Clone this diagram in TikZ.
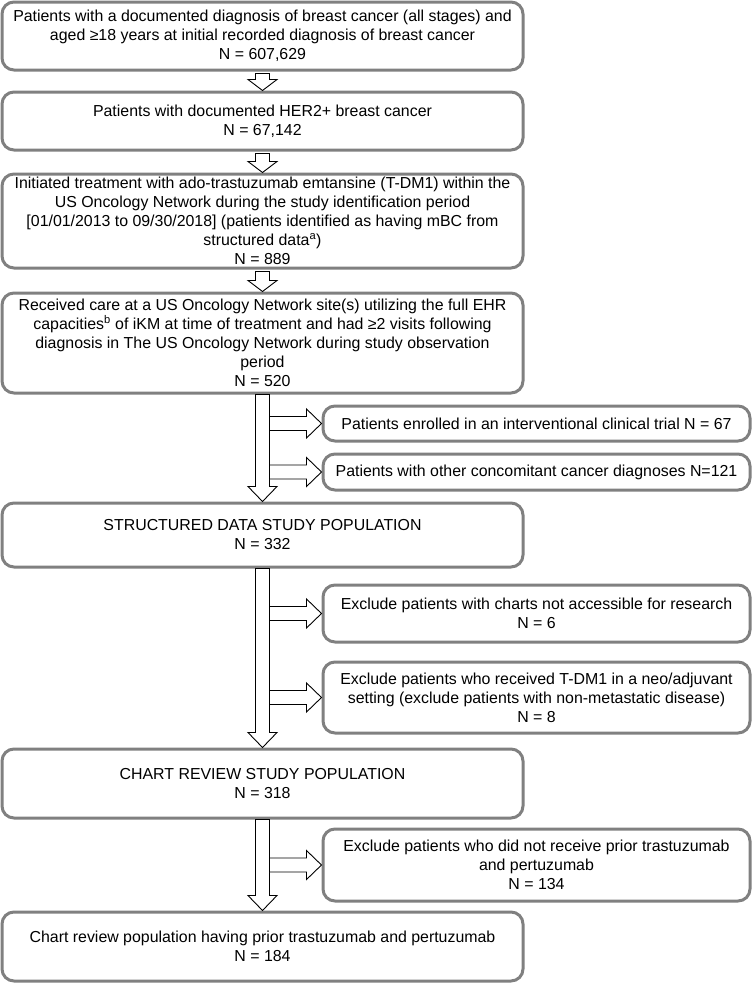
\documentclass[tikz,border=0pt]{standalone}
\usepackage{fontspec}
\setmainfont{Liberation Sans}
\usetikzlibrary{calc}
\definecolor{boxgray}{RGB}{128,128,128}
\tikzset{
	box/.style={draw=boxgray, line width=3pt, rounded corners=12pt, align=center, inner sep=0pt, font=\fontsize{15.9}{19}\selectfont},
	blockarrow/.style={draw=black, fill=white, line width=0.9pt, line join=miter}
}
% block arrow down: from node, to node, gap, head length
\newcommand{\flowdown}[4]{\draw[blockarrow] let \p1=(#1.south), \p2=(#2.north) in (\x1-7pt,\y1-#3) -- (\x1-7pt,\y2+#4) -- (\x1-14.5pt,\y2+#4) -- (\x1,\y2) -- (\x1+14.5pt,\y2+#4) -- (\x1+7pt,\y2+#4) -- (\x1+7pt,\y1-#3) -- cycle;}
% block arrow right: trunk node, side node
\newcommand{\flowright}[2]{\draw[blockarrow] let \p1=(#1.south), \p2=(#2.west) in (\x1+7pt,\y2-7pt) -- (\x2-15pt,\y2-7pt) -- (\x2-15pt,\y2-14.5pt) -- (\p2) -- (\x2-15pt,\y2+14.5pt) -- (\x2-15pt,\y2+7pt) -- (\x1+7pt,\y2+7pt) -- cycle;}

\begin{document}
\begin{tikzpicture}[x=1pt, y=-1pt]
			%%%%% START %%%%%
			\useasboundingbox (0, 0) rectangle (753, 983);
			
			\node[box, minimum width=521, minimum height=68] (all) at (262.5, 36) {Patients with a documented diagnosis of breast cancer (all stages) and\\aged ≥18 years at initial recorded diagnosis of breast cancer\\N = 607,629};
			\node[box, minimum width=521, minimum height=58] (her2) at (262.5, 121) {Patients with documented HER2+ breast cancer\\N = 67,142};
			\node[box, minimum width=521, minimum height=94] (tdm1) at (262.5, 221) {Initiated treatment with ado-trastuzumab emtansine (T-DM1) within the\\US Oncology Network during the study identification period\\{}[01/01/2013 to 09/30/2018] (patients identified as having mBC from\\structured data\textsuperscript{a})\\N = 889};
			\node[box, minimum width=521, minimum height=100] (care) at (262.5, 343) {Received care at a US Oncology Network site(s) utilizing the full EHR\\capacities\textsuperscript{b} of iKM at time of treatment and had ≥2 visits following\\diagnosis in The US Oncology Network during study observation\\period\\N = 520};
			
			\node[box, minimum width=427, minimum height=35] (trial) at (536.5, 423.5) {Patients enrolled in an interventional clinical trial N = 67};
			\node[box, minimum width=427, minimum height=36] (other) at (536.5, 472) {Patients with other concomitant cancer diagnoses N=121};
			
			\node[box, minimum width=521, minimum height=64] (struct) at (262.5, 535) {STRUCTURED DATA STUDY POPULATION\\N = 332};
			
			\node[box, minimum width=427, minimum height=57] (access) at (536.5, 613.5) {Exclude patients with charts not accessible for research\\N = 6};
			\node[box, minimum width=427, minimum height=71] (neoadj) at (536.5, 697.5) {Exclude patients who received T-DM1 in a neo/adjuvant\\setting (exclude patients with non-metastatic disease)\\N = 8};
			
			\node[box, minimum width=521, minimum height=69] (chart) at (262.5, 783.5) {CHART REVIEW STUDY POPULATION\\N = 318};
			\node[box, minimum width=427, minimum height=72] (prior) at (536.5, 865) {Exclude patients who did not receive prior trastuzumab\\and pertuzumab\\N = 134};
			\node[box, minimum width=521, minimum height=69] (final) at (262.5, 946.5) {Chart review population having prior trastuzumab and pertuzumab\\N = 184};
			
			\flowdown{all}{her2}{2pt}{11pt}
			\flowdown{her2}{tdm1}{2pt}{11pt}
			\flowdown{tdm1}{care}{2pt}{11pt}
			
			\flowdown{care}{struct}{0pt}{15pt}
			\flowright{care}{trial}
			\flowright{care}{other}
			
			\flowdown{struct}{chart}{0pt}{15pt}
			\flowright{struct}{access}
			\flowright{struct}{neoadj}
			
			\flowdown{chart}{final}{0pt}{15pt}
			\flowright{chart}{prior}
			%%%%% END %%%%%
\end{tikzpicture}
\end{document}
